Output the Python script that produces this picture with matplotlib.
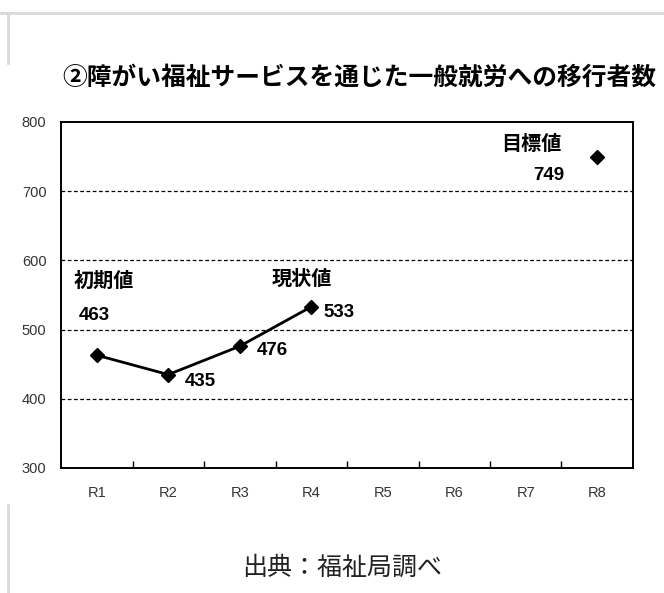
import matplotlib
matplotlib.use("Agg")
import matplotlib.pyplot as plt
from matplotlib.lines import Line2D

plt.rcParams['font.family'] = ['Noto Sans CJK JP', 'DejaVu Sans']

# ---- data ----
categories = ["R1", "R2", "R3", "R4", "R5", "R6", "R7", "R8"]
actual_idx = [0, 1, 2, 3]
actual_vals = [463, 435, 476, 533]
target_idx = [7]
target_vals = [749]
y_ticks = [300, 400, 500, 600, 700, 800]
title = "②障がい福祉サービスを通じた一般就労への移行者数"
source = "出典：福祉局調べ"

fig = plt.figure(figsize=(6.64, 5.93), dpi=100)
ax = fig.add_axes([0.0919, 0.2108, 0.8614, 0.5835])

ax.plot(actual_idx, actual_vals, color="black", lw=2.0, marker="D", ms=7,
        markerfacecolor="black", markeredgecolor="black", zorder=3)
ax.plot(target_idx, target_vals, ls="none", marker="D", ms=7,
        color="black", zorder=3)

ax.set_xlim(-0.5, len(categories) - 0.5)
ax.set_ylim(y_ticks[0], y_ticks[-1])
ax.set_xticks(range(len(categories)))
ax.set_xticklabels(categories)
ax.set_yticks(y_ticks)
ax.tick_params(axis="x", length=0, pad=13, labelsize=10.5, labelcolor="#333333")
ax.tick_params(axis="y", length=0, pad=10.5, labelsize=10.5, labelcolor="#333333")
for lab in ax.get_xticklabels() + ax.get_yticklabels():
    lab.set_family(["Liberation Sans", "DejaVu Sans"])

# boundary ticks on x axis
ax.set_xticks([i + 0.5 for i in range(len(categories) - 1)], minor=True)
ax.tick_params(axis="x", which="minor", direction="in", length=5, width=1, color="black")

for g in y_ticks[1:-1]:
    ax.axhline(g, color="black", lw=0.9, ls=(0, (3, 2)), zorder=1)
for s in ax.spines.values():
    s.set_linewidth(1.4)
    s.set_color("black")

num_font = dict(family=["Liberation Sans", "DejaVu Sans"], fontweight="bold", fontsize=13.5)
jp_font = dict(family=["Noto Sans CJK JP", "DejaVu Sans"], fontweight="bold", fontsize=14.5)

def lab(x, y, text, dx, dy, ha="left", **kw):
    ax.annotate(text, (x, y), xytext=(dx * 0.72, dy * 0.72), textcoords="offset points",
                ha=ha, va="center", **kw)

lab(actual_idx[0], actual_vals[0], str(actual_vals[0]), -18, 40, **num_font)
lab(actual_idx[0], actual_vals[0], "初期値", -23, 75, **jp_font)
lab(actual_idx[1], actual_vals[1], str(actual_vals[1]), 16, -7, **num_font)
lab(actual_idx[2], actual_vals[2], str(actual_vals[2]), 17, -4, **num_font)
lab(actual_idx[3], actual_vals[3], str(actual_vals[3]), 12, -6, **num_font)
lab(actual_idx[3], actual_vals[3], "現状値", -40, 28, **jp_font)
lab(target_idx[0], target_vals[0], "目標値", -96, 14, **jp_font)
lab(target_idx[0], target_vals[0], str(target_vals[0]), -64, -18, **num_font)

fig.text(0.541, 1 - 77.5 / 593, title, ha="center", va="center",
         fontsize=17.8, fontweight="bold", color="black")
fig.text(0.515, 1 - 568 / 593, source, ha="center", va="center",
         fontsize=18, color="#222222")

# page frame lines
fig.add_artist(Line2D([0, 1], [1 - 12.7 / 593] * 2, color="#d9d9d9", lw=2))
fig.add_artist(Line2D([7.5 / 664] * 2, [1 - 13 / 593, 1 - 63 / 593], color="#d9d9d9", lw=2))
fig.add_artist(Line2D([7.5 / 664] * 2, [0, 1 - 505 / 593], color="#d9d9d9", lw=2))

fig.savefig("out.png", dpi=100, facecolor="white")
